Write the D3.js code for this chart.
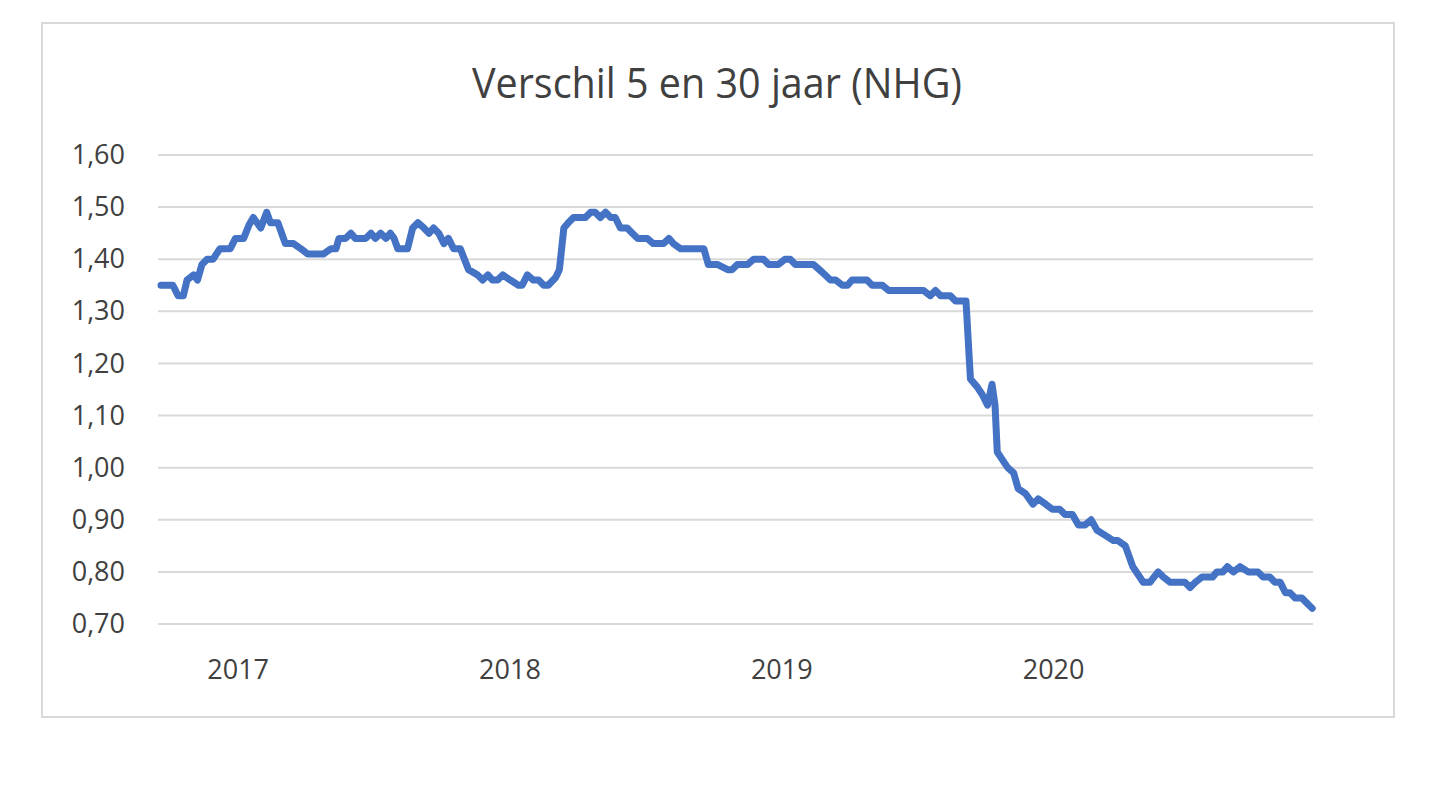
<!DOCTYPE html>
<html>
<head>
<meta charset="utf-8">
<script src="https://cdn.jsdelivr.net/npm/d3@7"></script>
<style>
  html, body { margin: 0; padding: 0; background: #fff; }
  svg { display: block; }
</style>
</head>
<body>
<svg id="chart" width="1440" height="787"></svg>
<script>
const title = "Verschil 5 en 30 jaar (NHG)";

const dates = [
  "2016-09-20","2016-10-06","2016-10-13","2016-10-20","2016-10-25","2016-11-03","2016-11-08","2016-11-14","2016-11-21","2016-11-29","2016-12-08","2016-12-22","2016-12-29",
  "2017-01-09","2017-01-16","2017-01-22","2017-02-01","2017-02-09","2017-02-14","2017-02-24","2017-03-06","2017-03-17","2017-03-27","2017-04-05","2017-04-26","2017-05-06","2017-05-13","2017-05-17","2017-05-26","2017-06-02","2017-06-08","2017-06-22","2017-06-29","2017-07-05","2017-07-12","2017-07-19","2017-07-25","2017-07-30","2017-08-04","2017-08-17","2017-08-24","2017-08-31","2017-09-08","2017-09-15","2017-09-21","2017-09-28","2017-10-05","2017-10-11","2017-10-18","2017-10-27","2017-11-07","2017-11-19","2017-11-26","2017-12-03","2017-12-09","2017-12-16","2017-12-23",
  "2018-01-02","2018-01-13","2018-01-18","2018-01-25","2018-02-02","2018-02-09","2018-02-16","2018-02-22","2018-03-04","2018-03-09","2018-03-15","2018-03-21","2018-03-28","2018-04-13","2018-04-20","2018-04-26","2018-05-03","2018-05-10","2018-05-17","2018-05-23","2018-05-30","2018-06-08","2018-06-15","2018-06-22","2018-07-05","2018-07-13","2018-07-27","2018-08-03","2018-08-09","2018-08-19","2018-09-19","2018-09-25","2018-10-07","2018-10-21","2018-10-27","2018-11-03","2018-11-17","2018-11-25","2018-12-08","2018-12-15","2018-12-28",
  "2019-01-06","2019-01-13","2019-01-20","2019-02-13","2019-02-25","2019-03-08","2019-03-15","2019-03-24","2019-03-31","2019-04-06","2019-04-26","2019-05-03","2019-05-17","2019-05-25","2019-07-11","2019-07-20","2019-07-27","2019-08-03","2019-08-16","2019-08-23","2019-09-06","2019-09-12","2019-09-21","2019-09-28","2019-10-05","2019-10-11","2019-10-15","2019-10-18","2019-10-25","2019-11-01","2019-11-09","2019-11-15","2019-11-25","2019-12-05","2019-12-12","2019-12-22","2019-12-31",
  "2020-01-10","2020-01-17","2020-01-27","2020-02-04","2020-02-13","2020-02-21","2020-02-29","2020-03-11","2020-03-22","2020-03-28","2020-04-07","2020-04-17","2020-05-01","2020-05-10","2020-05-21","2020-05-28","2020-06-06","2020-06-26","2020-07-03","2020-07-10","2020-07-19","2020-08-02","2020-08-08","2020-08-16","2020-08-22","2020-08-30","2020-09-08","2020-09-19","2020-10-02","2020-10-09","2020-10-18","2020-10-25","2020-11-01","2020-11-08","2020-11-14","2020-11-21","2020-11-30","2020-12-07","2020-12-14"
];

const spread = [
  1.35,1.35,1.33,1.33,1.36,1.37,1.36,1.39,1.40,1.40,1.42,1.42,1.44,
  1.44,1.465,1.48,1.46,1.49,1.47,1.47,1.43,1.43,1.42,1.41,1.41,1.42,1.42,1.44,1.44,1.45,1.44,1.44,1.45,1.44,1.45,1.44,1.45,1.44,1.42,1.42,1.46,1.47,1.46,1.45,1.46,1.45,1.43,1.44,1.42,1.42,1.38,1.37,1.36,1.37,1.36,1.36,1.37,
  1.36,1.35,1.35,1.37,1.36,1.36,1.35,1.35,1.365,1.38,1.46,1.47,1.48,1.48,1.49,1.49,1.48,1.49,1.48,1.48,1.46,1.46,1.45,1.44,1.44,1.43,1.43,1.44,1.43,1.42,1.42,1.39,1.39,1.38,1.38,1.39,1.39,1.40,1.40,1.39,1.39,
  1.40,1.40,1.39,1.39,1.375,1.36,1.36,1.35,1.35,1.36,1.36,1.35,1.35,1.34,1.34,1.33,1.34,1.33,1.33,1.32,1.32,1.17,1.155,1.14,1.12,1.16,1.12,1.03,1.015,1.00,0.99,0.96,0.95,0.93,0.94,0.93,0.92,
  0.92,0.91,0.91,0.89,0.89,0.90,0.88,0.87,0.86,0.86,0.85,0.81,0.78,0.78,0.80,0.79,0.78,0.78,0.77,0.78,0.79,0.79,0.80,0.80,0.81,0.80,0.81,0.80,0.80,0.79,0.79,0.78,0.78,0.76,0.76,0.75,0.75,0.74,0.73
];

const yTicks = [0.70, 0.80, 0.90, 1.00, 1.10, 1.20, 1.30, 1.40, 1.50, 1.60];
const yearLabels = ["2017", "2018", "2019", "2020"];
const xDomain = ["2016-09-16", "2020-12-15"];

(function () {
  const parse = d3.timeParse("%Y-%m-%d");
  const n = Math.min(dates.length, spread.length);
  const data = dates.slice(0, n).map((d, i) => ({ date: parse(d), value: spread[i] }));

  const svg = d3.select("#chart");
  const fontFam = "'Open Sans', 'Noto Sans', sans-serif";

  // chart border
  svg.append("rect")
    .attr("x", 42).attr("y", 23).attr("width", 1352).attr("height", 694)
    .attr("fill", "#fff").attr("stroke", "#d9d9d9").attr("stroke-width", 2);

  const plotL = 158, plotR = 1313, plotT = 155, plotB = 624;

  const x = d3.scaleTime()
    .domain(xDomain.map(parse))
    .range([plotL, plotR]);

  const y = d3.scaleLinear()
    .domain([0.70, 1.60])
    .range([plotB, plotT]);

  // gridlines
  svg.append("g")
    .selectAll("line")
    .data(yTicks)
    .join("line")
    .attr("x1", plotL).attr("x2", plotR)
    .attr("y1", d => y(d)).attr("y2", d => y(d))
    .attr("stroke", "#d9d9d9").attr("stroke-width", 2);

  // y axis labels
  const fmt = d => d3.format(".2f")(d).replace(".", ",");
  const yAxis = d3.axisLeft(y).tickValues(yTicks).tickFormat(fmt).tickSize(0).tickPadding(33);
  const gy = svg.append("g").attr("transform", `translate(${plotL},0)`).call(yAxis);
  gy.select(".domain").remove();
  gy.selectAll("text")
    .attr("font-family", fontFam).attr("font-size", 27).attr("fill", "#404040");

  // x axis labels at Jan 1 of each year
  const xAxis = d3.axisBottom(x)
    .tickValues(yearLabels.map(yr => parse(yr + "-01-01")))
    .tickFormat((d, i) => yearLabels[i])
    .tickSize(0).tickPadding(36);
  const gx = svg.append("g").attr("transform", `translate(0,${plotB})`).call(xAxis);
  gx.select(".domain").remove();
  gx.selectAll("text")
    .attr("font-family", fontFam).attr("font-size", 27).attr("fill", "#404040");

  // line
  const line = d3.line()
    .x(d => x(d.date))
    .y(d => y(d.value));

  svg.append("path")
    .datum(data)
    .attr("d", line)
    .attr("fill", "none")
    .attr("stroke", "#4472c4")
    .attr("stroke-width", 7)
    .attr("stroke-linejoin", "round")
    .attr("stroke-linecap", "round");

  // title
  svg.append("text")
    .attr("x", 717).attr("y", 98)
    .attr("text-anchor", "middle")
    .attr("font-family", fontFam)
    .attr("font-size", 42)
    .attr("textLength", 490)
    .attr("lengthAdjust", "spacingAndGlyphs")
    .attr("fill", "#404040")
    .text(title);
})();
</script>
</body>
</html>
